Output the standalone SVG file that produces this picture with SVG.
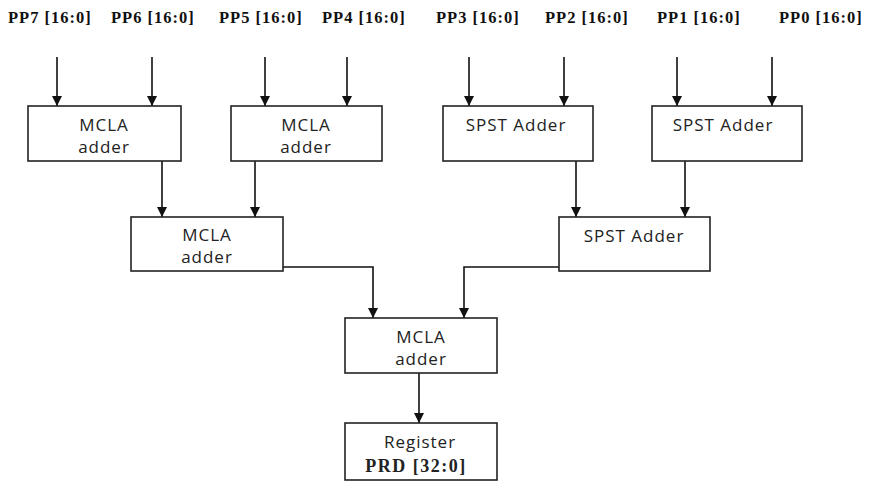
<svg xmlns="http://www.w3.org/2000/svg" width="873" height="486" viewBox="0 0 873 486">
<style>
.box{fill:#fff;stroke:#222;stroke-width:1.6}
.lbl{font-family:"Liberation Serif",serif;font-weight:bold;font-size:16.5px;letter-spacing:1px;fill:#111}
.t{font-family:"Open Sans","DejaVu Sans",sans-serif;font-size:17px;letter-spacing:1px;fill:#222;text-anchor:middle}
.tb{font-family:"Liberation Serif",serif;font-weight:bold;font-size:18px;letter-spacing:1.5px;fill:#222;text-anchor:middle}
.c{fill:none;stroke:#111;stroke-width:1.6}
</style>
<defs>
<marker id="ah" viewBox="0 0 10 10" refX="10" refY="5" markerWidth="10" markerHeight="10" markerUnits="userSpaceOnUse" orient="auto">
<path d="M0,0 L10,5 L0,10 Z" fill="#111"/>
</marker>
</defs>
<g id="labels">
<text class="lbl" x="8" y="23">PP7 [16:0]</text>
<text class="lbl" x="111" y="23">PP6 [16:0]</text>
<text class="lbl" x="219" y="23">PP5 [16:0]</text>
<text class="lbl" x="322" y="23">PP4 [16:0]</text>
<text class="lbl" x="436" y="23">PP3 [16:0]</text>
<text class="lbl" x="545" y="23">PP2 [16:0]</text>
<text class="lbl" x="657" y="23">PP1 [16:0]</text>
<text class="lbl" x="779" y="23">PP0 [16:0]</text>
</g>
<g id="connectors">
<path class="c" marker-end="url(#ah)" d="M57,57 V106"/>
<path class="c" marker-end="url(#ah)" d="M152,57 V106"/>
<path class="c" marker-end="url(#ah)" d="M265,57 V106"/>
<path class="c" marker-end="url(#ah)" d="M347,57 V106"/>
<path class="c" marker-end="url(#ah)" d="M469,57 V106"/>
<path class="c" marker-end="url(#ah)" d="M564,57 V106"/>
<path class="c" marker-end="url(#ah)" d="M677,57 V106"/>
<path class="c" marker-end="url(#ah)" d="M772,57 V106"/>
<path class="c" marker-end="url(#ah)" d="M162,161 V217"/>
<path class="c" marker-end="url(#ah)" d="M255,161 V217"/>
<path class="c" marker-end="url(#ah)" d="M576,161 V217"/>
<path class="c" marker-end="url(#ah)" d="M685,161 V217"/>
<path class="c" marker-end="url(#ah)" d="M283,267 H373 V318"/>
<path class="c" marker-end="url(#ah)" d="M559,267 H464 V318"/>
<path class="c" marker-end="url(#ah)" d="M419,373 V423"/>
</g>
<g id="n1"><rect class="box" x="28" y="106" width="153" height="55"/><text class="t" x="104" y="131">MCLA</text><text class="t" x="104" y="153">adder</text></g>
<g id="n2"><rect class="box" x="231" y="106" width="151" height="55"/><text class="t" x="306" y="131">MCLA</text><text class="t" x="306" y="153">adder</text></g>
<g id="n3"><rect class="box" x="443" y="106" width="150" height="55"/><text class="t" x="516" y="131">SPST Adder</text></g>
<g id="n4"><rect class="box" x="652" y="106" width="150" height="55"/><text class="t" x="723" y="131">SPST Adder</text></g>
<g id="n5"><rect class="box" x="131" y="217" width="152" height="54"/><text class="t" x="207" y="241">MCLA</text><text class="t" x="207" y="263">adder</text></g>
<g id="n6"><rect class="box" x="559" y="217" width="151" height="54"/><text class="t" x="634" y="242">SPST Adder</text></g>
<g id="n7"><rect class="box" x="345" y="318" width="152" height="55"/><text class="t" x="421" y="343">MCLA</text><text class="t" x="421" y="365">adder</text></g>
<g id="n8"><rect class="box" x="345" y="423" width="152" height="57"/><text class="t" x="420" y="448">Register</text><text class="tb" x="416" y="472">PRD [32:0]</text></g>
</svg>
